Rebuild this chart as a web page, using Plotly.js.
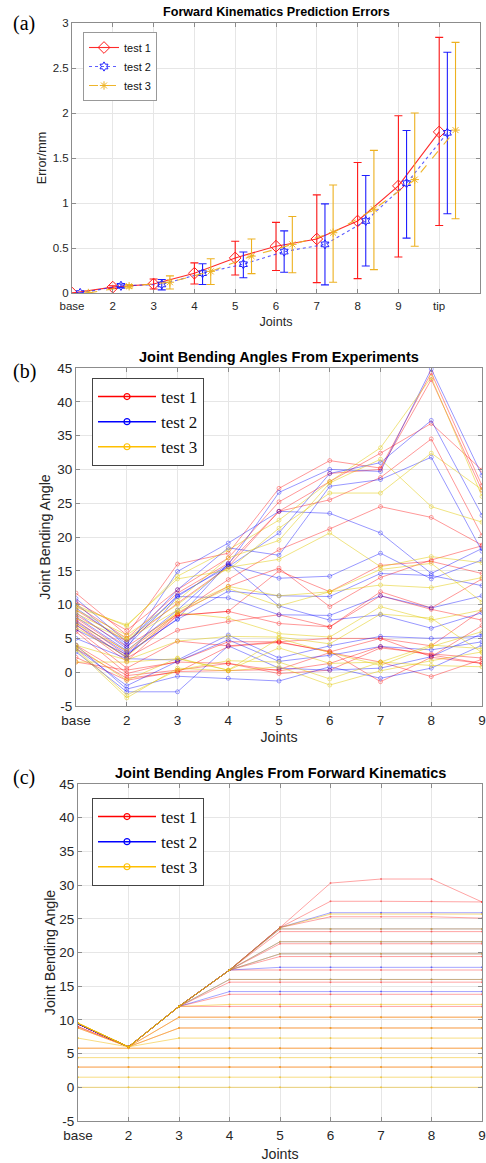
<!DOCTYPE html>
<html><head><meta charset="utf-8">
<script src="https://cdn.plot.ly/plotly-3.0.1.min.js"></script>
<style>html,body{margin:0;padding:0;background:#fff}#chart{width:486px;height:1163px}</style>
</head><body><div id="chart"></div>
<script>
// ---------- Panel (a): prediction errors ----------
const jointLabelsA = ['base','2','3','4','5','6','7','8','9','tip'];
const jointPosA = [1,2,3,4,5,6,7,8,9,10];
const seriesNames = ['test 1','test 2','test 3'];
const dodgeA = [0, 0.2, 0.4];
const errMean1 = [0, 0.065, 0.10, 0.22, 0.39, 0.52, 0.60, 0.80, 1.19, 1.79];
const errLow1  = [0, 0.05, 0.045, 0.10, 0.20, 0.25, 0.115, 0.16, 0.40, 0.75];
const errHigh1 = [0, 0.08, 0.155, 0.335, 0.575, 0.785, 1.09, 1.45, 1.97, 2.84];
const errMean2 = [0, 0.08, 0.095, 0.22, 0.32, 0.46, 0.54, 0.80, 1.22, 1.78];
const errLow2  = [0, 0.06, 0.035, 0.095, 0.17, 0.23, 0.09, 0.30, 0.61, 0.88];
const errHigh2 = [0, 0.10, 0.15, 0.325, 0.455, 0.69, 0.99, 1.305, 1.805, 2.675];
const errMean3 = [0, 0.075, 0.12, 0.24, 0.41, 0.54, 0.67, 0.93, 1.26, 1.81];
const errLow3  = [0, 0.055, 0.045, 0.095, 0.215, 0.225, 0.12, 0.26, 0.52, 0.825];
const errHigh3 = [0, 0.095, 0.19, 0.38, 0.60, 0.85, 1.20, 1.585, 2.0, 2.785];
const yTicksA = [0, 0.5, 1, 1.5, 2, 2.5, 3];

// ---------- Panels (b),(c) ----------
const jointLabelsB = ['base','2','3','4','5','6','7','8','9'];
const jointPosB = [1,2,3,4,5,6,7,8,9];
const yTicksB = [-5,0,5,10,15,20,25,30,35,40,45];

// (b) experimental bending angles, one row per trial
const expTest1 = [
  [11.7, 5.5, 16.0, 17.6, 27.2, 31.3, 30.2, 44.3, 27.6],
  [10.4, 6.2, 12.2, 16.9, 25.2, 29.4, 30.0, 43.3, 26.9],
  [9.9, 5.0, 11.7, 16.1, 23.8, 28.2, 32.4, 36.8, 29.9],
  [9.2, 4.5, 10.2, 15.6, 23.8, 25.5, 28.8, 34.5, 20.2],
  [8.5, 3.8, 8.6, 13.7, 18.1, 21.2, 24.5, 22.9, 18.8],
  [8.0, 3.0, 8.6, 12.7, 15.4, 9.7, 14.0, 16.6, 18.7],
  [7.7, 2.5, 8.4, 9.0, 15.0, 11.9, 15.8, 16.4, 14.6],
  [7.3, 2.1, 6.2, 7.5, 8.5, 6.7, 11.9, 9.5, 13.8],
  [7.0, 1.6, 8.4, 9.0, 7.2, 6.7, 11.3, 9.3, 7.7],
  [6.4, 0.6, 4.6, 3.9, 4.5, 5.0, 5.0, 3.9, 9.2],
  [6.0, -0.2, 1.6, 4.5, 4.5, 3.0, 5.0, 2.3, 6.9],
  [4.0, -0.5, 0.3, 1.3, -0.2, 0.3, 3.6, 2.7, 2.1],
  [3.5, -0.9, 0.0, 3.8, 4.4, 3.1, -1.4, 2.2, 1.3],
  [2.2, -1.2, 0.1, 0.2, 0.4, 2.9, 1.5, -0.65, 1.9],
  [1.5, 0.3, 1.5, 1.3, 0.2, 1.3, 3.8, 2.5, 1.3]
];
const expTest2 = [
  [10.9, 4.5, 11.2, 15.9, 26.6, 30.0, 29.7, 44.85, 29.1],
  [10.2, 3.8, 11.4, 15.6, 20.6, 29.4, 31.0, 37.25, 23.2],
  [9.5, 4.2, 12.2, 18.4, 17.3, 27.5, 28.5, 31.8, 17.9],
  [8.8, 3.5, 14.9, 19.1, 23.8, 23.5, 20.6, 14.6, 18.3],
  [8.2, 3.2, 9.2, 15.9, 13.9, 14.2, 17.6, 13.8, 16.6],
  [7.5, 2.8, 7.8, 12.0, 11.3, 11.2, 14.6, 14.3, 12.8],
  [7.0, 2.2, 11.2, 11.0, 8.5, 8.4, 11.3, 9.5, 11.3],
  [6.3, 2.6, 7.9, 16.1, 9.8, 7.7, 8.5, 6.5, 8.8],
  [5.0, 2.0, 1.8, 5.5, 2.1, 3.9, 5.3, 5.0, 5.3],
  [3.5, -2.0, 1.6, 4.8, 1.6, 2.5, 3.8, 3.3, 4.5],
  [3.0, -2.9, -2.9, 3.9, 0.6, 0.3, 0.6, 2.3, 5.7],
  [4.0, -2.5, -0.6, -0.9, -1.3, 0.8, -0.9, 0.6, 4.0]
];
const expTest3 = [
  [9.9, 6.8, 14.2, 18.1, 22.5, 28.2, 33.2, 43.6, 26.0],
  [9.6, 7.0, 13.8, 15.1, 21.3, 26.5, 26.5, 32.4, 27.0],
  [9.2, 5.5, 10.6, 16.9, 19.5, 28.0, 31.5, 24.5, 22.2],
  [8.7, 5.0, 10.0, 15.5, 16.7, 20.6, 15.6, 17.1, 16.2],
  [8.0, 4.8, 9.2, 12.7, 11.3, 11.9, 15.2, 16.1, 10.4],
  [7.2, 3.2, 8.9, 12.4, 9.8, 11.9, 12.9, 12.5, 14.0],
  [6.6, 2.3, 8.8, 8.0, 5.7, 5.2, 9.7, 7.7, 9.2],
  [4.0, 1.8, 4.6, 5.3, 5.2, 4.2, 8.6, 8.0, 2.9],
  [3.8, -1.2, 2.1, 0.3, 3.6, 1.3, 1.5, 4.0, 3.5],
  [3.5, -3.4, 0.3, 1.7, 1.5, -1.0, 1.5, 1.0, 0.8],
  [3.3, -3.8, 0.6, 0.2, 0.8, -1.9, 0.2, 1.7, 3.0],
  [1.5, 1.5, 2.0, 0.3, 5.0, 2.9, 1.0, 3.8, 6.0]
];

// (c) forward-kinematics bending angles
const fkTest1 = [
  [9.4, 6.0, 12.0, 17.4, 23.7, 30.3, 30.9, 30.9, 27.5],
  [9.4, 6.0, 12.0, 17.4, 23.7, 27.6, 27.6, 27.6, 27.5],
  [9.4, 6.0, 12.0, 17.4, 23.7, 25.3, 25.3, 25.3, 25.1],
  [9.4, 6.0, 12.0, 17.4, 23.1, 23.1, 23.1, 23.1, 23.1],
  [9.4, 6.0, 12.0, 17.4, 21.3, 21.3, 21.3, 21.3, 21.3],
  [9.4, 6.0, 12.0, 17.4, 19.4, 19.4, 19.4, 19.4, 19.4],
  [9.4, 6.0, 12.0, 17.4, 17.4, 17.4, 17.4, 17.4, 17.4],
  [9.4, 6.0, 12.0, 15.6, 15.6, 15.6, 15.6, 15.6, 15.6],
  [9.4, 6.0, 12.0, 13.8, 13.8, 13.8, 13.8, 13.8, 13.8],
  [9.0, 6.0, 12.0, 12.0, 12.0, 12.0, 12.0, 12.0, 12.0],
  [9.0, 6.0, 10.4, 10.4, 10.4, 10.4, 10.4, 10.4, 10.4],
  [8.8, 6.0, 8.8, 8.8, 8.8, 8.8, 8.8, 8.8, 8.8],
  [5.8, 5.8, 5.8, 5.8, 5.8, 5.8, 5.8, 5.8, 5.8],
  [3.0, 3.0, 3.0, 3.0, 3.0, 3.0, 3.0, 3.0, 3.0]
];
const fkTest2 = [
  [9.4, 6.0, 12.0, 17.4, 23.7, 25.9, 25.9, 25.9, 25.9],
  [9.4, 6.0, 12.0, 17.4, 23.5, 23.5, 23.5, 23.5, 23.5],
  [9.4, 6.0, 12.0, 17.4, 21.6, 21.6, 21.6, 21.6, 21.6],
  [9.4, 6.0, 12.0, 17.4, 19.8, 19.8, 19.8, 19.8, 19.8],
  [9.4, 6.0, 12.0, 17.4, 17.8, 17.8, 17.8, 17.8, 17.8],
  [9.4, 6.0, 12.0, 16.0, 16.0, 16.0, 16.0, 16.0, 16.0],
  [9.4, 6.0, 12.0, 14.2, 14.2, 14.2, 14.2, 14.2, 14.2]
];
const fkTest3 = [
  [9.5, 6.0, 12.0, 17.4, 23.7, 25.7, 25.7, 25.7, 25.7],
  [9.5, 6.0, 12.0, 17.4, 23.5, 23.5, 23.5, 23.5, 23.5],
  [9.5, 6.0, 12.0, 17.4, 21.6, 21.6, 21.6, 21.6, 21.6],
  [9.5, 6.0, 12.0, 17.4, 19.8, 19.8, 19.8, 19.8, 19.8],
  [9.5, 6.0, 12.0, 16.0, 16.0, 16.0, 16.0, 16.0, 16.0],
  [9.5, 6.0, 12.0, 12.3, 12.3, 12.3, 12.3, 12.3, 12.3],
  [9.5, 6.0, 10.4, 10.4, 10.4, 10.4, 10.4, 10.4, 10.4],
  [8.8, 6.0, 8.8, 8.8, 8.8, 8.8, 8.8, 8.8, 8.8],
  [7.3, 6.0, 7.3, 7.3, 7.3, 7.3, 7.3, 7.3, 7.3],
  [5.8, 5.8, 5.8, 5.8, 5.8, 5.8, 5.8, 5.8, 5.8],
  [4.4, 4.4, 4.4, 4.4, 4.4, 4.4, 4.4, 4.4, 4.4],
  [3.0, 3.0, 3.0, 3.0, 3.0, 3.0, 3.0, 3.0, 3.0],
  [1.5, 1.5, 1.5, 1.5, 1.5, 1.5, 1.5, 1.5, 1.5],
  [0.0, 0.0, 0.0, 0.0, 0.0, 0.0, 0.0, 0.0, 0.0]
];

// ---------- styling ----------
const SANS = 'Liberation Sans, Arial, sans-serif';
const SERIF = 'Liberation Serif, Times New Roman, serif';
const AXIS_GREY = '#8c8c8c';
const GRID = '#e6e6e6';
const TXT = '#262626';
const solidColors = ['#ff0000', '#0000ff', '#ffbf00'];
const fadedColors = ['rgba(255,0,0,0.45)', 'rgba(0,0,255,0.45)', 'rgba(225,200,0,0.55)'];
const fkColors = ['rgba(255,0,0,0.4)', 'rgba(0,0,255,0.4)', 'rgba(240,185,0,0.55)'];
const aColors = ['#ff1a1a', '#2020ff', '#edb120'];
const aLineColors = ['rgba(255,20,20,0.9)', 'rgba(40,40,255,0.75)', 'rgba(237,177,32,0.95)'];
const aDash = ['solid', 'dot', 'dash'];
const aSymbols = ['diamond-open', 'hexagram-open', 'asterisk-open'];

const traces = [];
const meansA = [errMean1, errMean2, errMean3];
const lowsA = [errLow1, errLow2, errLow3];
const highsA = [errHigh1, errHigh2, errHigh3];
for (let s = 0; s < 3; s++) {
  traces.push({
    type: 'scatter', mode: 'lines+markers', name: seriesNames[s],
    x: jointPosA.map(v => v + dodgeA[s]), y: meansA[s],
    xaxis: 'x', yaxis: 'y', legend: 'legend',
    line: {color: aLineColors[s], width: 1.1, dash: aDash[s]},
    marker: {symbol: aSymbols[s], size: s === 0 ? 9 : 7, color: aColors[s], line: {color: aColors[s], width: 1}},
    error_y: {type: 'data', symmetric: false,
      array: highsA[s].map((h, i) => h - meansA[s][i]),
      arrayminus: meansA[s].map((m, i) => m - lowsA[s][i]),
      color: aColors[s], thickness: 1.1, width: 4}
  });
}

function addGroup(rows, colors, s, xa, ya, msize, open) {
  rows.forEach(row => {
    traces.push({
      type: 'scatter', mode: 'lines+markers', x: jointPosB, y: row,
      xaxis: xa, yaxis: ya, showlegend: false, hoverinfo: 'skip',
      line: {color: colors[s], width: 0.9},
      marker: {symbol: open ? 'circle-open' : 'circle', size: msize, color: colors[s], line: {color: colors[s], width: open ? 0.8 : 0}}
    });
  });
}
[expTest1, expTest2, expTest3].forEach((rows, s) => addGroup(rows, fadedColors, s, 'x2', 'y2', 4, true));
[fkTest1, fkTest2, fkTest3].forEach((rows, s) => addGroup(rows, fkColors, s, 'x3', 'y3', 2, false));
// legend entries for (b) and (c)
[['x2','y2','legend2'], ['x3','y3','legend3']].forEach(([xa, ya, lg]) => {
  for (let s = 0; s < 3; s++) {
    traces.push({
      type: 'scatter', mode: 'lines+markers', name: seriesNames[s], x: [null], y: [null],
      xaxis: xa, yaxis: ya, legend: lg, showlegend: true,
      line: {color: solidColors[s], width: 1.5},
      marker: {symbol: 'circle-open', size: 6, color: solidColors[s], line: {color: solidColors[s], width: 1.2}}
    });
  }
});

const W = 486, H = 1163;
const dx = (a, b) => [a / W, b / W];
const dy = (top, bottom) => [1 - bottom / H, 1 - top / H];

function axis(domain, anchor, range, vals, labels, fs, title, tfs, standoff, labelGap) {
  return {domain, anchor, range, tickvals: vals, ticktext: labels, showgrid: true, gridcolor: GRID, gridwidth: 1,
    zeroline: false, showline: true, linecolor: AXIS_GREY, linewidth: 1, mirror: 'ticks', ticks: 'inside', ticklen: 4,
    tickcolor: AXIS_GREY, tickfont: {family: SANS, size: fs, color: TXT}, ticklabeloverflow: 'allow',
    ticklabelstandoff: labelGap,
    title: {text: title, font: {family: SANS, size: tfs, color: TXT}, standoff}};
}

const legendBig = (x, y) => ({x, y, xanchor: 'left', yanchor: 'top', bgcolor: '#fff', bordercolor: '#444', borderwidth: 1,
  font: {family: SERIF, size: 17, color: '#111'}, itemwidth: 58, tracegroupgap: 0});

const layout = {
  width: W, height: H, margin: {l: 0, r: 0, t: 0, b: 0}, paper_bgcolor: '#fff', plot_bgcolor: '#fff',
  showlegend: true,
  xaxis: axis(dx(72, 480), 'y', [1, 11], jointPosA, jointLabelsA, 11.5, 'Joints', 12.6, 6, 2),
  yaxis: axis(dy(23, 293), 'x', [0, 3], yTicksA, yTicksA.map(String), 11.5, 'Error/mm', 12.6, 3, 0),
  xaxis2: axis(dx(76, 482), 'y2', [1, 9], jointPosB, jointLabelsB, 13.5, 'Joints', 14.2, 4, 2),
  yaxis2: axis(dy(368, 706), 'x2', [-5, 45], yTicksB, yTicksB.map(String), 13.5, 'Joint Bending Angle', 14.2, 3, 0),
  xaxis3: axis(dx(78, 482), 'y3', [1, 9], jointPosB, jointLabelsB, 13.5, 'Joints', 14.2, 6, 2),
  yaxis3: axis(dy(784, 1121), 'x3', [-5, 45], yTicksB, yTicksB.map(String), 13.5, 'Joint Bending Angle', 14.2, 0, 0),
  legend: {x: 83 / W, y: 1 - 32 / H, xanchor: 'left', yanchor: 'top', bgcolor: '#fff', bordercolor: '#999', borderwidth: 1,
    font: {family: SANS, size: 11, color: '#111'}, itemwidth: 30, tracegroupgap: 0},
  legend2: legendBig(92 / W, 1 - 378 / H),
  legend3: legendBig(92 / W, 1 - 798 / H),
  annotations: [
    {text: '<b>Forward Kinematics Prediction Errors</b>', xref: 'paper', yref: 'paper', x: 276 / W, y: 1 - 12 / H, showarrow: false, xanchor: 'center', yanchor: 'middle', font: {family: SANS, size: 12.6, color: '#000'}},
    {text: '<b>Joint Bending Angles From Experiments</b>', xref: 'paper', yref: 'paper', x: 279 / W, y: 1 - 357 / H, showarrow: false, xanchor: 'center', yanchor: 'middle', font: {family: SANS, size: 14.5, color: '#000'}},
    {text: '<b>Joint Bending Angles From Forward Kinematics</b>', xref: 'paper', yref: 'paper', x: 280 / W, y: 1 - 773 / H, showarrow: false, xanchor: 'center', yanchor: 'middle', font: {family: SANS, size: 14.5, color: '#000'}},
    {text: '(a)', xref: 'paper', yref: 'paper', x: 24 / W, y: 1 - 24 / H, showarrow: false, xanchor: 'center', yanchor: 'middle', font: {family: SERIF, size: 20, color: '#000'}},
    {text: '(b)', xref: 'paper', yref: 'paper', x: 24 / W, y: 1 - 371 / H, showarrow: false, xanchor: 'center', yanchor: 'middle', font: {family: SERIF, size: 20, color: '#000'}},
    {text: '(c)', xref: 'paper', yref: 'paper', x: 24 / W, y: 1 - 777 / H, showarrow: false, xanchor: 'center', yanchor: 'middle', font: {family: SERIF, size: 20, color: '#000'}}
  ]
};

Plotly.newPlot('chart', traces, layout, {staticPlot: true, displayModeBar: false});
</script>
</body></html>
